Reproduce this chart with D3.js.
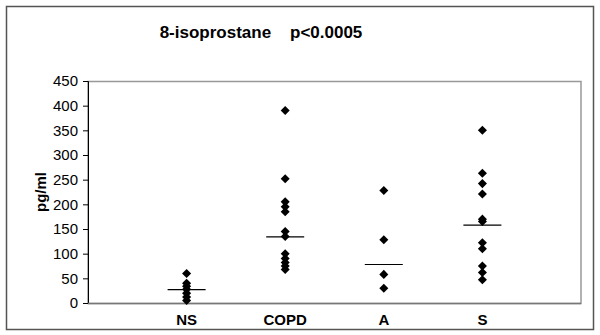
<!DOCTYPE html>
<html>
<head>
<meta charset="utf-8">
<script src="https://cdn.jsdelivr.net/npm/d3@7"></script>
<style>
  body { margin: 0; background: #fff; }
  svg { display: block; font-family: Arial, "Liberation Sans", sans-serif; }
</style>
</head>
<body>
<div id="outer"></div>
<script>
////////// Data //////////
const categories = ['NS', 'COPD', 'A', 'S'];
const nsValues = [60, 40, 34, 28, 20, 12, 5];
const copdValues = [390, 252, 205, 195, 185, 145, 135, 100, 90, 82, 75, 68];
const aValues = [228, 128, 58, 30];
const sValues = [350, 263, 242, 221, 170, 165, 122, 110, 75, 62, 47];
const medians = [27, 134, 78, 158];
const yTicks = [0, 50, 100, 150, 200, 250, 300, 350, 400, 450];
const chartTitle = '8-isoprostane\u00a0\u00a0\u00a0\u00a0p<0.0005';
const yTitle = 'pg/ml';

const groups = [nsValues, copdValues, aValues, sValues];

////////// Layout //////////
const width = 600, height = 335;
const plot = { left: 88, top: 81, right: 581, bottom: 303 };

const svg = d3.select('#outer').append('svg')
  .attr('width', width)
  .attr('height', height);

// outer chart frame
svg.append('rect')
  .attr('x', 6.5).attr('y', 6.5)
  .attr('width', 587).attr('height', 323)
  .attr('fill', '#fff')
  .attr('stroke', '#555')
  .attr('stroke-width', 1.5);

const x = d3.scaleLinear().domain([0, categories.length + 1]).range([plot.left, plot.right]);
const y = d3.scaleLinear().domain([0, 450]).range([plot.bottom, plot.top]);

// plot area border (gray)
svg.append('rect')
  .attr('x', plot.left).attr('y', plot.top + 0.5)
  .attr('width', plot.right - plot.left).attr('height', plot.bottom - plot.top)
  .attr('fill', 'none')
  .attr('stroke', '#999')
  .attr('stroke-width', 1.5);

// y axis
const yAxis = svg.append('g')
  .attr('transform', `translate(${plot.left},0)`)
  .call(d3.axisLeft(y).tickValues(yTicks).tickSize(5).tickPadding(5));
yAxis.select('.domain').attr('stroke', '#000');
yAxis.selectAll('line').attr('stroke', '#000');
yAxis.selectAll('text')
  .attr('fill', '#000')
  .style('font-size', '15px')
  .style('font-family', 'Arial, "Liberation Sans", sans-serif');

// x axis baseline
svg.append('line')
  .attr('x1', plot.left).attr('x2', plot.right)
  .attr('y1', plot.bottom + 0.5).attr('y2', plot.bottom + 0.5)
  .attr('stroke', '#777')
  .attr('stroke-width', 1.5);

// category labels
svg.selectAll('.catLabel')
  .data(categories)
  .join('text')
  .attr('class', 'catLabel')
  .attr('x', (d, i) => x(i + 1))
  .attr('y', 325)
  .attr('text-anchor', 'middle')
  .style('font-size', '15px')
  .style('font-weight', 'bold')
  .text(d => d);

// titles
svg.append('text')
  .attr('x', 261)
  .attr('y', 38)
  .attr('text-anchor', 'middle')
  .style('font-size', '17px')
  .style('font-weight', 'bold')
  .text(chartTitle);

svg.append('text')
  .attr('transform', 'translate(46,192) rotate(-90)')
  .attr('text-anchor', 'middle')
  .style('font-size', '15px')
  .style('font-weight', 'bold')
  .text(yTitle);

// points
const diamond = d3.symbol().type(d3.symbolDiamond2).size(52);
groups.forEach((vals, i) => {
  svg.append('g')
    .selectAll('path')
    .data(vals)
    .join('path')
    .attr('transform', d => `translate(${x(i + 1)},${y(d)})`)
    .attr('d', diamond)
    .attr('fill', '#000');
});

// median lines
svg.selectAll('.median')
  .data(medians)
  .join('line')
  .attr('class', 'median')
  .attr('x1', (d, i) => x(i + 1) - 19)
  .attr('x2', (d, i) => x(i + 1) + 19)
  .attr('y1', d => y(d))
  .attr('y2', d => y(d))
  .attr('stroke', '#000')
  .attr('stroke-width', 1.2);
</script>
</body>
</html>
